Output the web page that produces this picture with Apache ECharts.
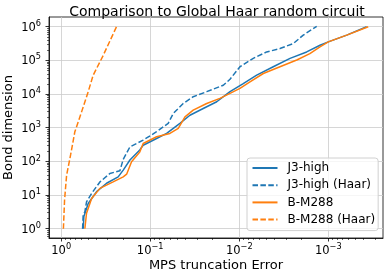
<!DOCTYPE html>
<html><head><meta charset="utf-8">
<script src="https://cdn.jsdelivr.net/npm/echarts@6/dist/echarts.min.js"></script>
<style>html,body{margin:0;padding:0;background:#fff}#c{width:385px;height:274px}</style>
</head><body><div id="c"></div>
<script>
// Data: [MPS truncation error, bond dimension]
const j3HighErr  = [0.566,0.556,0.497,0.400,0.309,0.229,0.201,0.169,0.131,0.120,0.0848,0.0654,0.0464,0.0358,0.0254,0.0179,0.0127,0.00902,0.00637,0.00415,0.00269,0.00175,0.00124,0.00100,0.000621,0.000371];
const j3HighBond = [1,2.29,5.6,12.6,22.4,34.7,55,110,219,302,479,676,1349,2344,3715,5888,11750,20400,36300,64600,114800,177800,281800,354800,562000,1000000];

const j3HaarErr  = [0.575,0.566,0.542,0.519,0.455,0.367,0.284,0.219,0.201,0.169,0.120,0.0848,0.0628,0.0552,0.0426,0.0329,0.0232,0.0151,0.0127,0.00982,0.00696,0.00492,0.00349,0.00247,0.00191,0.00135];
const j3HaarBond = [1,2.57,3.16,6.3,11.2,24.5,43.7,52.5,115,269,427,759,1349,2630,5248,8318,11750,18200,27540,64600,114800,177800,223900,316000,562000,1020000];

const bmErr  = [0.542,0.519,0.455,0.367,0.261,0.201,0.184,0.162,0.131,0.120,0.0848,0.0601,0.0484,0.0407,0.0329,0.0232,0.0165,0.0127,0.00982,0.00758,0.00537,0.00349,0.00226,0.00161,0.00124,0.00100,0.000621,0.000356];
const bmBond = [1,2.88,7.9,15.8,24.5,34.7,41.7,97.7,190,339,537,676,955,2089,3311,5248,7413,10470,14790,22900,40700,64600,102300,158500,251200,354800,562000,1000000];

const bmHaarErr  = [0.944,0.916,0.869,0.784,0.702,0.590,0.497,0.437,0.337,0.239];
const bmHaarBond = [1,7.1,38.9,155,759,2951,11750,36300,141000,1000000];

const xMajor = [1,0.1,0.01,0.001];
const yMajor = [1,10,100,1000,10000,100000,1000000];

const seriesNames = ['J3-high','J3-high (Haar)','B-M288','B-M288 (Haar)'];

function pairs(a,b){return a.map((v,i)=>[v,b[i]]);}
function minorVals(lo,hi){const r=[];for(let e=lo;e<=hi;e++){for(let k=2;k<=9;k++)r.push(k*Math.pow(10,e));}return r;}
function supLabel(v){const e=Math.round(Math.log10(v));return '{b|10}{s|'+(e<0?'\u2212'+(-e):e)+'}';}

const BLUE='#1f77b4', ORANGE='#ff7f0e';
const dash=[5.5,2.4];
const FF='DejaVu Sans';
const labRich={b:{fontSize:11.5,fontFamily:FF,color:'#000',verticalAlign:'bottom',lineHeight:14},
               s:{fontSize:8.2,fontFamily:FF,color:'#000',verticalAlign:'top',lineHeight:9}};
const xMin=2.43e-4,xMax=1.37,yMin=0.53,yMax=1.94e6;

const chart=echarts.init(document.getElementById('c'),null,{renderer:'canvas'});
chart.setOption({
  animation:false,
  title:{text:'Comparison to Global Haar random circuit',left:212,textAlign:'center',top:0,
    textStyle:{fontFamily:FF,fontSize:14,fontWeight:'normal',color:'#000'}},
  grid:{left:49,right:2,top:17,bottom:36,show:true,borderColor:'#000',borderWidth:0.8,backgroundColor:'transparent',
    containLabel:false,outerBoundsMode:'none'},
  legend:{orient:'vertical',left:247,top:158,data:seriesNames,
    itemWidth:25,itemHeight:12,itemGap:5.2,padding:[4,3,5,4.5],
    itemStyle:{opacity:0},
    backgroundColor:'rgba(255,255,255,0.8)',borderColor:'#d0d0d0',borderWidth:1,borderRadius:3,
    textStyle:{fontFamily:FF,fontSize:12,color:'#000',padding:[0,0,0,5]}},
  xAxis:[{type:'log',inverse:true,min:xMin,max:xMax,
      name:'MPS truncation Error',nameLocation:'middle',nameGap:21,nameMoveOverlap:false,
      nameTextStyle:{fontFamily:FF,fontSize:13,color:'#000'},
      axisLine:{lineStyle:{color:'#000',width:0.8}},
      axisTick:{length:3.5,lineStyle:{color:'#000',width:0.8},customValues:xMajor},
      axisLabel:{customValues:xMajor,margin:5,formatter:supLabel,rich:labRich},
      splitLine:{show:true,lineStyle:{color:'#cbcbcb',width:0.8}}},
    {type:'log',inverse:true,min:xMin,max:xMax,position:'bottom',
      axisLine:{show:false},axisLabel:{show:false},splitLine:{show:false},
      axisTick:{length:2,lineStyle:{color:'#000',width:0.6},customValues:minorVals(-4,0)}}],
  yAxis:[{type:'log',min:yMin,max:yMax,
      name:'Bond dimension',nameLocation:'middle',nameGap:34,nameMoveOverlap:false,
      nameTextStyle:{fontFamily:FF,fontSize:13,color:'#000'},
      axisLine:{lineStyle:{color:'#000',width:0.8}},
      axisTick:{length:3.5,lineStyle:{color:'#000',width:0.8},customValues:yMajor},
      axisLabel:{customValues:yMajor,margin:8,formatter:supLabel,rich:labRich},
      splitLine:{show:true,lineStyle:{color:'#cbcbcb',width:0.8}}},
    {type:'log',min:yMin,max:yMax,position:'left',
      axisLine:{show:false},axisLabel:{show:false},splitLine:{show:false},
      axisTick:{length:2,lineStyle:{color:'#000',width:0.6},customValues:minorVals(-1,6)}}],
  series:[
    {name:seriesNames[0],type:'line',data:pairs(j3HighErr,j3HighBond),showSymbol:false,symbol:'none',
      lineStyle:{color:BLUE,width:1.5},itemStyle:{color:BLUE}},
    {name:seriesNames[1],type:'line',data:pairs(j3HaarErr,j3HaarBond),showSymbol:false,symbol:'none',
      lineStyle:{color:BLUE,width:1.5,type:dash},itemStyle:{color:BLUE}},
    {name:seriesNames[2],type:'line',data:pairs(bmErr,bmBond),showSymbol:false,symbol:'none',
      lineStyle:{color:ORANGE,width:1.5},itemStyle:{color:ORANGE}},
    {name:seriesNames[3],type:'line',data:pairs(bmHaarErr,bmHaarBond),showSymbol:false,symbol:'none',
      lineStyle:{color:ORANGE,width:1.5,type:dash},itemStyle:{color:ORANGE}}
  ]
});
</script></body></html>
